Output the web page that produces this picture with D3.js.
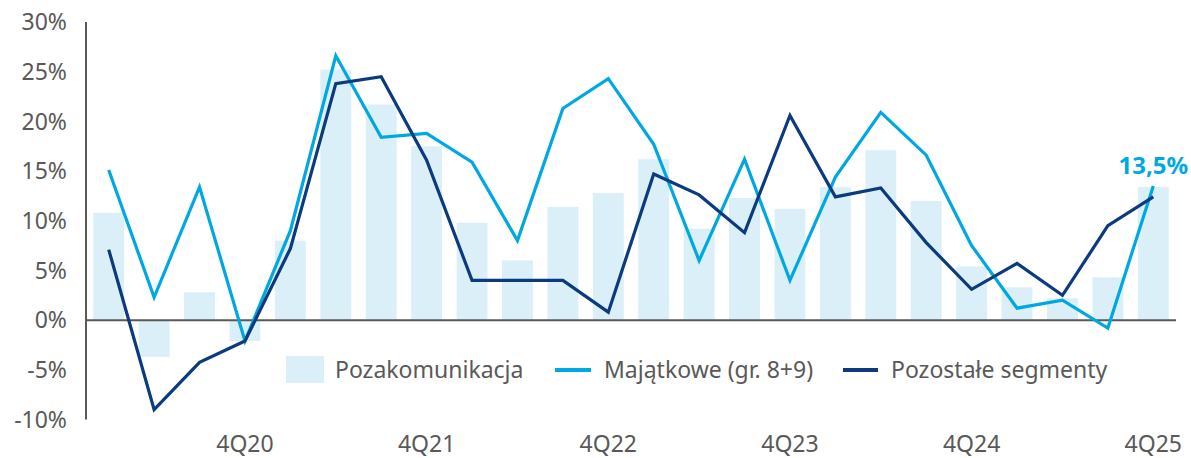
<!DOCTYPE html>
<html>
<head>
<meta charset="utf-8">
<script src="https://cdn.jsdelivr.net/npm/d3@7"></script>
<style>
  html, body { margin: 0; padding: 0; background: #fff; }
  svg { display: block; font-family: "Noto Sans", Lato, sans-serif; }
</style>
</head>
<body>
<div id="chart"></div>
<script>
// quarters 1Q20 .. 4Q25
const quarters = [
  "1Q20","2Q20","3Q20","4Q20","1Q21","2Q21","3Q21","4Q21",
  "1Q22","2Q22","3Q22","4Q22","1Q23","2Q23","3Q23","4Q23",
  "1Q24","2Q24","3Q24","4Q24","1Q25","2Q25","3Q25","4Q25"
];
const tickQuarters = ["4Q20","4Q21","4Q22","4Q23","4Q24","4Q25"];

// y/y growth, %
const pozakomunikacja = [
  10.8, -3.7, 2.8, -2.1, 8.0, 25.2, 21.7, 17.5,
  9.8, 6.0, 11.4, 12.8, 16.2, 9.2, 12.3, 11.2,
  13.4, 17.1, 12.0, 5.4, 3.3, 2.2, 4.3, 13.4
];
const majatkowe = [
  15.1, 2.3, 13.4, -2.1, 9.0, 26.6, 18.4, 18.8,
  15.9, 8.0, 21.3, 24.3, 17.7, 6.0, 16.2, 4.0,
  14.4, 20.9, 16.6, 7.5, 1.2, 2.0, -0.8, 13.5
];
const pozostale = [
  7.1, -9.0, -4.25, -2.1, 7.2, 23.8, 24.5, 16.1,
  4.0, 4.0, 4.0, 0.8, 14.7, 12.6, 8.8, 20.6,
  12.4, 13.3, 7.8, 3.1, 5.7, 2.5, 9.5, 12.4
];
const yTicks = [-10, -5, 0, 5, 10, 15, 20, 25, 30];

const W = 1191, H = 458;
const C = { bar: "#daeff8", light: "#00a8e1", dark: "#0b3a7e", axis: "#595959", text: "#595959" };
const FS = 23;

const svg = d3.select("#chart").append("svg").attr("width", W).attr("height", H);

const x = d3.scaleBand().domain(quarters).range([86, 1176]).paddingInner(0.32).paddingOuter(0.16);
const y = d3.scaleLinear().domain([-10, 30]).range([419.5, 22]);
const cx = q => x(q) + x.bandwidth() / 2;

// bars
svg.append("g").selectAll("rect").data(pozakomunikacja).join("rect")
  .attr("x", (d, i) => x(quarters[i]))
  .attr("width", x.bandwidth())
  .attr("y", d => y(Math.max(0, d)))
  .attr("height", d => Math.abs(y(d) - y(0)))
  .attr("fill", C.bar);

// y axis labels
svg.append("g").selectAll("text").data(yTicks).join("text")
  .attr("x", 67).attr("y", d => y(d))
  .attr("dy", "0.36em")
  .attr("text-anchor", "end")
  .attr("font-size", FS)
  .attr("fill", C.text)
  .text(d => d + "%");

// axes lines
svg.append("line").attr("x1", 86).attr("x2", 86).attr("y1", y(30)).attr("y2", y(-10))
  .attr("stroke", C.axis).attr("stroke-width", 2);
svg.append("line").attr("x1", 86).attr("x2", 1176).attr("y1", y(0)).attr("y2", y(0))
  .attr("stroke", C.axis).attr("stroke-width", 2);

// x labels
svg.append("g").selectAll("text").data(tickQuarters).join("text")
  .attr("x", d => cx(d)).attr("y", 444)
  .attr("dy", "0.36em")
  .attr("text-anchor", "middle")
  .attr("font-size", FS)
  .attr("fill", C.text)
  .text(d => d);

// lines
const line = d3.line().x((d, i) => cx(quarters[i])).y(d => y(d));
svg.append("path").datum(majatkowe).attr("d", line)
  .attr("fill", "none").attr("stroke", C.light).attr("stroke-width", 3.2).attr("stroke-linejoin", "miter");
svg.append("path").datum(pozostale).attr("d", line)
  .attr("fill", "none").attr("stroke", C.dark).attr("stroke-width", 3.2).attr("stroke-linejoin", "miter");

// end label
const last = quarters.length - 1;
svg.append("text")
  .attr("x", cx(quarters[last])).attr("y", 174)
  .attr("text-anchor", "middle")
  .attr("font-size", 24).attr("font-weight", "bold")
  .attr("fill", C.light)
  .text(d3.format(".1f")(majatkowe[last]).replace(".", ",") + "%");

// legend
const leg = svg.append("g").attr("font-size", FS).attr("fill", C.text);
leg.append("rect").attr("x", 286).attr("y", 356).attr("width", 38).attr("height", 27).attr("fill", C.bar);
leg.append("text").attr("x", 335).attr("y", 370).attr("dy", "0.36em").text("Pozakomunikacja");
leg.append("line").attr("x1", 555).attr("x2", 591).attr("y1", 370).attr("y2", 370)
  .attr("stroke", C.light).attr("stroke-width", 4);
leg.append("text").attr("x", 604).attr("y", 370).attr("dy", "0.36em").text("Majątkowe (gr. 8+9)");
leg.append("line").attr("x1", 843).attr("x2", 878).attr("y1", 370).attr("y2", 370)
  .attr("stroke", C.dark).attr("stroke-width", 4);
leg.append("text").attr("x", 891).attr("y", 370).attr("dy", "0.36em").text("Pozostałe segmenty");
</script>
</body>
</html>
